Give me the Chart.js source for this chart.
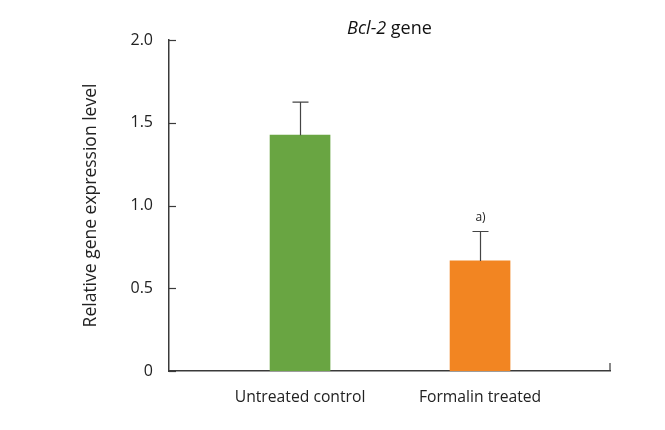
<!DOCTYPE html>
<html>
<head>
<meta charset="utf-8">
<script src="https://cdn.jsdelivr.net/npm/chart.js@4.4.1/dist/chart.umd.min.js"></script>
<style>
  html, body { margin: 0; padding: 0; background: #fff; }
  #wrap { width: 665px; height: 430px; }
</style>
</head>
<body>
<div id="wrap"><canvas id="chart" width="665" height="430"></canvas></div>
<script>
// data
const categories = ['Untreated control', 'Formalin treated'];
const means = [1.425, 0.665];
const errors = [0.2, 0.178];
const marks = ['', 'a)'];
const yTicks = [0, 0.5, 1.0, 1.5, 2.0];

const FONT = '"Open Sans", "Noto Sans", sans-serif';
const AXIS = '#3a3a3a';

// error bars, inward tick marks, "a)" and the mixed-style title
const decor = {
  id: 'decor',
  afterDatasetsDraw(chart) {
    const { ctx, chartArea } = chart;
    const x = chart.scales.x, y = chart.scales.y;
    ctx.save();
    ctx.strokeStyle = '#444';
    ctx.lineWidth = 1.2;
    means.forEach((m, i) => {
      const px = Math.round(x.getPixelForValue(i)) + 0.5;
      const top = y.getPixelForValue(m + errors[i]);
      ctx.beginPath();
      ctx.moveTo(px, y.getPixelForValue(m));
      ctx.lineTo(px, top);
      ctx.moveTo(px - 8, top);
      ctx.lineTo(px + 8, top);
      ctx.stroke();
      if (marks[i]) {
        ctx.fillStyle = '#222';
        ctx.font = '12px ' + FONT;
        ctx.textAlign = 'center';
        ctx.textBaseline = 'bottom';
        ctx.fillText(marks[i], px, top - 8);
      }
    });

    ctx.strokeStyle = AXIS;
    ctx.lineWidth = 1.2;
    y.ticks.forEach(t => {
      const py = Math.round(y.getPixelForValue(t.value)) + 0.5;
      ctx.beginPath();
      ctx.moveTo(chartArea.left, py);
      ctx.lineTo(chartArea.left + 7, py);
      ctx.stroke();
    });
    ctx.beginPath();
    ctx.moveTo(chartArea.right, chartArea.bottom);
    ctx.lineTo(chartArea.right, chartArea.bottom - 8);
    ctx.stroke();

    // title: "Bcl-2" italic + " gene"
    const cx = (chartArea.left + chartArea.right) / 2;
    const it = 'italic 18px ' + FONT, rg = '18px ' + FONT;
    ctx.font = it; const w1 = ctx.measureText('Bcl-2').width;
    ctx.font = rg; const w2 = ctx.measureText(' gene').width;
    const sx = cx - (w1 + w2) / 2;
    ctx.fillStyle = '#111';
    ctx.textBaseline = 'middle';
    ctx.textAlign = 'left';
    ctx.font = it; ctx.fillText('Bcl-2', sx, 29);
    ctx.font = rg; ctx.fillText(' gene', sx + w1, 29);
    ctx.restore();
  }
};

new Chart(document.getElementById('chart'), {
  type: 'bar',
  data: {
    datasets: [{
      data: means.map((v, i) => ({ x: i, y: v })),
      backgroundColor: ['#69a542', '#f28522'],
      borderWidth: 0,
      barThickness: 60
    }]
  },
  options: {
    responsive: false,
    animation: false,
    layout: { padding: { top: 40, right: 55, left: 0, bottom: 0 } },
    plugins: { legend: { display: false }, tooltip: { enabled: false } },
    scales: {
      x: {
        type: 'linear',
        offset: false,
        min: -0.728,
        max: 1.722,
        afterBuildTicks: s => { s.ticks = categories.map((c, i) => ({ value: i })); },
        afterFit: s => { s.height = 59; },
        grid: { display: false, offset: false },
        border: { display: true, color: AXIS, width: 1.5 },
        ticks: {
          autoSkip: false,
          maxRotation: 0,
          padding: 9,
          color: '#222',
          font: { family: FONT, size: 15.7 },
          callback: v => categories[v]
        }
      },
      y: {
        min: 0,
        max: 2,
        afterBuildTicks: s => { s.ticks = yTicks.map(v => ({ value: v })); },
        afterFit: s => { s.width = 169; },
        grid: { display: false },
        border: { display: true, color: AXIS, width: 1.5 },
        ticks: {
          padding: 8,
          color: '#222',
          font: { family: FONT, size: 16 },
          callback: v => v === 0 ? '0' : v.toFixed(1)
        },
        title: {
          display: true,
          text: 'Relative gene expression level',
          color: '#222',
          font: { family: FONT, size: 17.5 },
          padding: { top: 81, bottom: 0 }
        }
      }
    }
  },
  plugins: [decor]
});
</script>
</body>
</html>
